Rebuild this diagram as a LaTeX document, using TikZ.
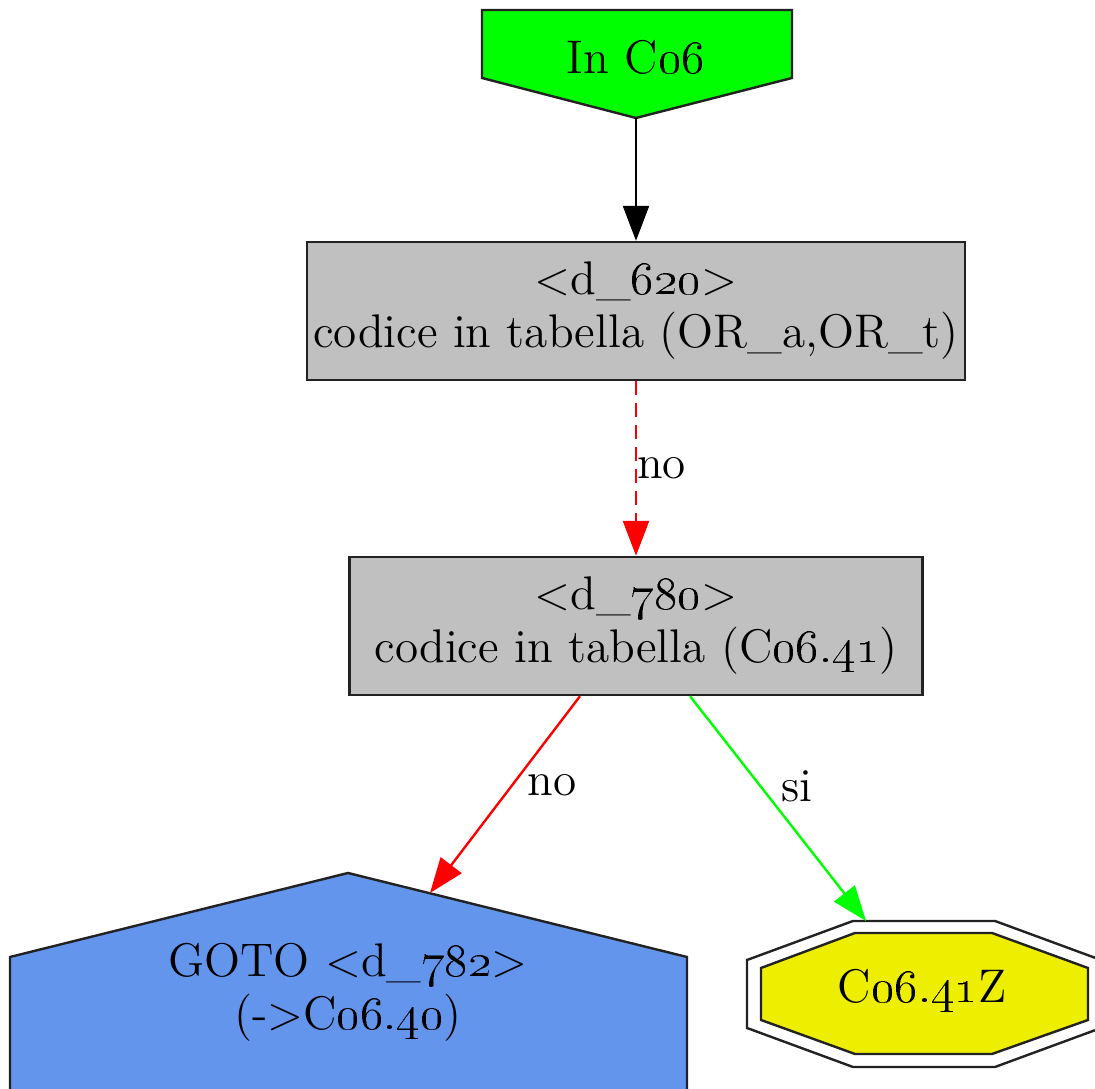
\documentclass[tikz,border=0pt]{standalone}
\usepackage{xcolor}
\usepackage{tikz}
\usetikzlibrary{arrows.meta, positioning, calc}
\definecolor{FlowGreen}{RGB}{0, 255, 0}
\definecolor{FlowGray}{RGB}{192, 192, 192}
\definecolor{FlowBlue}{RGB}{100, 149, 237}
\definecolor{FlowYellow}{RGB}{238, 238, 0}
\definecolor{FlowRed}{RGB}{255, 0, 0}
\definecolor{FlowBorder}{RGB}{34, 34, 34}
\newcommand{\osf}[1]{\oldstylenums{#1}}
\tikzset{
  every node/.style={font=\fontsize{11.8}{13.25}\selectfont},
  testbox/.style={draw=FlowBorder, fill=FlowGray, line width=0.6pt, align=center,
    minimum height=34.5pt, inner sep=0pt},
  flowarrow/.style={line width=0.6pt, -{Triangle[length=8.75pt, width=6.5pt]}},
  shapeline/.style={draw=FlowBorder, line width=0.6pt},
  edgelabel/.style={anchor=west, inner sep=0pt}
}

\begin{document}
\begin{tikzpicture}[x=0.25pt,y=-0.25pt]
  \clip (0,0) rectangle (1095,1089);
  \fill[white] (0,0) rectangle (1095,1089);
  % entry
  \filldraw[shapeline, fill=FlowGreen] (482,10) -- (792,10) -- (792,78) -- (636,118) -- (482,78) -- cycle;
  \node (start) at (636,57) {In C\osf{06}};
  \coordinate (start-tip) at (636,118);
  % tests
  \node[testbox, minimum width=164.5pt] (d620) at (636,311)
    {<d\_\osf{620}>\\codice in tabella (OR\_a,OR\_t)};
  \node[testbox, minimum width=143.25pt] (d780) at (636,626)
    {<d\_\osf{780}>\\codice in tabella (C\osf{06.41})};
  % goto
  \filldraw[shapeline, fill=FlowBlue] (348,873) -- (687,957) -- (687,1100) -- (10,1100) -- (10,957) -- cycle;
  \node[align=center] (goto) at (348,992) {GOTO <d\_\osf{782}>\\(->C\osf{06.40})};
  \coordinate (goto-tip) at (430,893);
  % end
  \draw[shapeline] (853,921) -- (995,921) -- (1101,960) -- (1101,1028) -- (995,1067) -- (853,1067) -- (747,1028) -- (747,960) -- cycle;
  \filldraw[shapeline, fill=FlowYellow] (855,933) -- (992,933) -- (1088,968) -- (1088,1020) -- (992,1054) -- (855,1054) -- (761,1020) -- (761,968) -- cycle;
  \node (final) at (922,991) {C\osf{06.41}Z};
  \coordinate (final-tip) at (866,921);
  % edges
  \draw[flowarrow] (start-tip) -- (d620);
  \draw[flowarrow, FlowRed, dash pattern=on 3.5pt off 2pt] (d620) -- (d780)
    node[edgelabel, midway, black] {no};
  \draw[flowarrow, FlowRed] ($(d780.south)+(-56,0)$) -- (goto-tip)
    node[edgelabel, pos=0.45, xshift=3.5pt, black] {no};
  \draw[flowarrow, FlowGreen] ($(d780.south)+(54,0)$) -- (final-tip)
    node[edgelabel, pos=0.4, xshift=5pt, black] {si};
\end{tikzpicture}
\end{document}
